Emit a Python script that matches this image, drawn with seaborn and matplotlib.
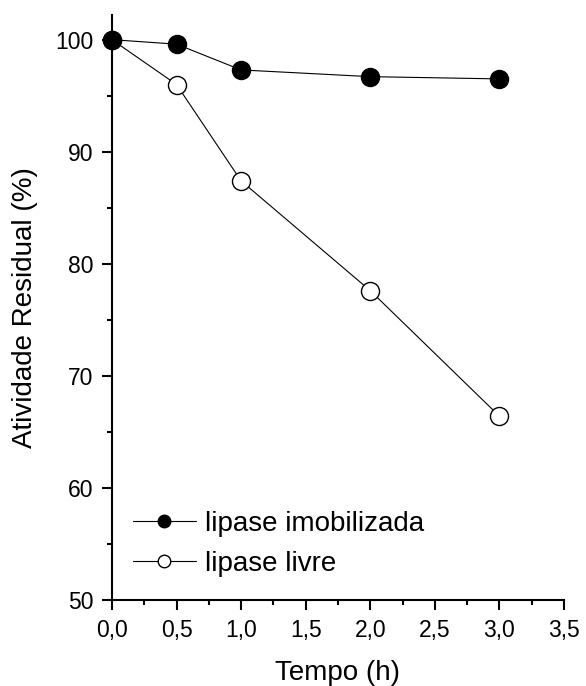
import matplotlib
matplotlib.use("Agg")
import matplotlib.pyplot as plt
from matplotlib.lines import Line2D
from matplotlib.ticker import MultipleLocator, FuncFormatter
import pandas as pd
import seaborn as sns

# Residual activity (%) over time (h)
tempo = [0.0, 0.5, 1.0, 2.0, 3.0]
imobilizada = [100.0, 99.6, 97.3, 96.7, 96.5]
livre = [100.0, 96.0, 87.4, 77.6, 66.4]
series_names = ["lipase imobilizada", "lipase livre"]
x_label = "Tempo (h)"
y_label = "Atividade Residual (%)"

sns.set_theme(style="ticks")
plt.rcParams["font.family"] = ["Liberation Sans", "DejaVu Sans"]
plt.rcParams["text.color"] = "black"
plt.rcParams["axes.labelcolor"] = "black"

fig = plt.figure(figsize=(5.86, 6.86), dpi=100)
ax = fig.add_axes([0.191, 0.1254, 0.7715, 0.8527])

df_imob = pd.DataFrame({"t": tempo, "a": imobilizada})
df_livre = pd.DataFrame({"t": tempo, "a": livre})

sns.lineplot(data=df_livre, x="t", y="a", ax=ax, color="black", lw=0.8,
             marker="o", markersize=13, markerfacecolor="white",
             markeredgecolor="black", markeredgewidth=1.0, zorder=3,
             clip_on=False)
sns.lineplot(data=df_imob, x="t", y="a", ax=ax, color="black", lw=0.8,
             marker="o", markersize=13, markerfacecolor="black",
             markeredgecolor="black", markeredgewidth=1.0, zorder=4,
             clip_on=False)

ax.set_xlim(0, 3.5)
ax.set_ylim(50, 102.2)
ax.xaxis.set_major_locator(MultipleLocator(0.5))
ax.xaxis.set_minor_locator(MultipleLocator(0.25))
ax.yaxis.set_major_locator(MultipleLocator(10))
ax.yaxis.set_minor_locator(MultipleLocator(5))
ax.xaxis.set_major_formatter(FuncFormatter(lambda v, p: f"{v:.1f}".replace(".", ",")))
ax.yaxis.set_major_formatter(FuncFormatter(lambda v, p: f"{v:.0f}"))

for side in ("top", "right"):
    ax.spines[side].set_visible(False)
for side in ("left", "bottom"):
    ax.spines[side].set_linewidth(1.5)
    ax.spines[side].set_color("black")

ax.tick_params(which="major", direction="out", length=7, width=1.5,
               labelsize=16.5, colors="black", pad=6.5)
ax.tick_params(which="minor", direction="out", length=3.8, width=1.5,
               colors="black")

ax.set_xlabel(x_label, fontsize=20, labelpad=13)
ax.set_ylabel(y_label, fontsize=20, labelpad=12)

handles = [
    Line2D([], [], color="black", lw=0.8, marker="o", markersize=9,
           markerfacecolor="black", markeredgecolor="black"),
    Line2D([], [], color="black", lw=0.8, marker="o", markersize=9,
           markerfacecolor="white", markeredgecolor="black"),
]
ax.legend(handles, series_names, loc="upper left",
          bbox_to_anchor=(0.047, 0.152), frameon=False, fontsize=20,
          handlelength=2.25, handletextpad=0.35, labelspacing=0.5,
          borderpad=0, borderaxespad=0)

fig.savefig("out.png", dpi=100, facecolor="white")
